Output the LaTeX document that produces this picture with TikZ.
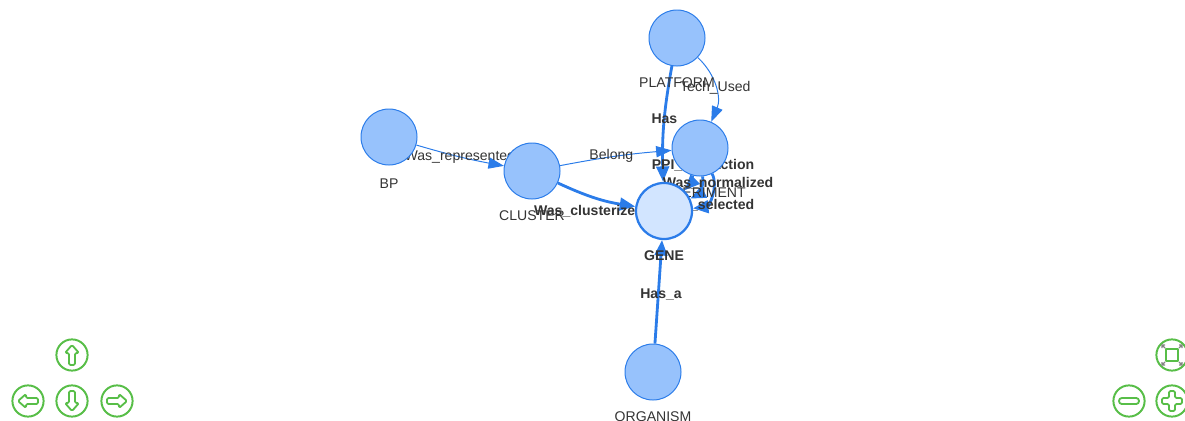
\documentclass[tikz,border=0pt]{standalone}
\usepackage{fontspec}
\setmainfont{Liberation Sans}
\usetikzlibrary{arrows.meta}
\usetikzlibrary{calc}
\pgfdeclarelayer{edges}
\pgfsetlayers{edges,main}
\definecolor{visfill}{HTML}{97C2FC}
\definecolor{visselfill}{HTML}{D2E5FF}
\definecolor{visborder}{HTML}{2B7CE9}
\definecolor{visedge}{HTML}{2B7CE9}
\definecolor{vistext}{HTML}{343434}
\definecolor{navgreen}{RGB}{88,190,72}
\definecolor{navgray}{RGB}{130,130,130}
\tikzset{
	entity/.style={circle,draw=visborder,fill=visfill,line width=0.7pt,minimum size=1.4cm,inner sep=0pt},
	selentity/.style={entity,fill=visselfill,line width=1.6pt},
	nlabel/.style={text=vistext,font=\fontsize{10}{12}\selectfont,inner sep=0pt},
	selnlabel/.style={nlabel,font=\fontsize{10}{12}\selectfont\bfseries},
	rel/.style={draw=visedge,line width=0.7pt,-{Triangle[length=11pt,width=8pt]}},
	selrel/.style={rel,line width=2pt,-{Triangle[length=11pt,width=9pt]}},
	elabel/.style={text=vistext,font=\fontsize{10}{12}\selectfont,inner sep=0pt},
	selabel/.style={elabel,font=\fontsize{10}{12}\selectfont\bfseries},
	navbtn/.style={circle,draw=navgreen,line width=1.4pt,minimum size=0.78cm,inner sep=0pt},
	navicon/.style={draw=navgreen,line width=1.3pt,rounded corners=1pt,line join=round},
	navarrow/.pic={\draw[navicon] (0,-10) -- (7,-2) -- (3,-2) -- (3,10) -- (-3,10) -- (-3,-2) -- (-7,-2) -- cycle;},
	navminus/.pic={\draw[navicon,rounded corners=2pt] (-10,-3) rectangle (10,3);},
	navplus/.pic={\draw[navicon] (-3,-10) -- (3,-10) -- (3,-3) -- (10,-3) -- (10,3) -- (3,3) -- (3,10) -- (-3,10) -- (-3,3) -- (-10,3) -- (-10,-3) -- (-3,-3) -- cycle;},
	navfit/.pic={
		\draw[navicon,rounded corners=0pt] (-6,-6) rectangle (6,6);
		\foreach \sx/\sy in {1/1,1/-1,-1/1,-1/-1}
			\draw[navgray,line width=0.8pt] (\sx*7,\sy*7) -- (\sx*10,\sy*10) (\sx*10,\sy*7) -- (\sx*10,\sy*10) -- (\sx*7,\sy*10);
	}
}

\begin{document}
\begin{tikzpicture}[x=0.025cm,y=-0.025cm,label distance=7.5pt]
	\useasboundingbox (0,0) rectangle (1185,421);
	% entities
	\node[entity,label={[nlabel]below:PLATFORM}] (platform) at (677,38) {};
	\node[entity,label={[nlabel]below:EXPERIMENT}] (experiment) at (700,148) {};
	\node[entity,label={[nlabel]below:CLUSTER}] (cluster) at (532,171) {};
	\node[entity,label={[nlabel,yshift=-2pt]below:BP}] (bp) at (389,137) {};
	\node[entity,label={[nlabel]below:ORGANISM}] (organism) at (653,372) {};
	\node[selentity,label={[selnlabel]below:GENE}] (gene) at (664,211) {};
	% relations
	\begin{pgfonlayer}{edges}
	\draw[selrel] (platform) to[bend right=6] node[selabel,pos=0.45] (lhas) {Has} (gene);
	\draw[rel] (platform) to[bend left=35] node[elabel,pos=0.5] (ltech) {Tech\_Used} (experiment);
	\draw[rel] (bp) to[bend right=3] node[elabel] (lrep) {Was\_represented} (cluster);
	\draw[rel] (cluster) to[bend left=3] node[elabel,xshift=-3pt] (lbelong) {Belong} (experiment);
	\draw[selrel] (cluster) to[bend right=8] (gene);
	\draw[selrel] (organism) to (gene);
	\draw[selrel] (experiment) to[bend left=15] (gene);
	\draw[selrel] (experiment) to[bend left=35] (gene);
	\draw[selrel] (experiment) to[bend left=55] (gene);
	\node[selabel] (lclust) at (589,211) {Was\_clusterized};
	\node[selabel] (lhasa) at (661,295) {Has\_a};
	\node[selabel] (lppi) at (703,165) {PPI\_interaction};
	\node[selabel] (lnorm) at (718,183) {Was\_normalized};
	\node[selabel] (lsel) at (708,205) {Was\_selected};
	\end{pgfonlayer}
	% navigation
	\node[navbtn] (btnup) at (72,355) {};
	\node[navbtn] (btnleft) at (28,401) {};
	\node[navbtn] (btndown) at (72,401) {};
	\node[navbtn] (btnright) at (117,401) {};
	\node[navbtn] (btnfit) at (1172,355) {};
	\node[navbtn] (btnout) at (1129,401) {};
	\node[navbtn] (btnin) at (1172,401) {};
	\pic at (btnup) {navarrow};
	\pic[rotate=90] at (btnleft) {navarrow};
	\pic[rotate=180] at (btndown) {navarrow};
	\pic[rotate=-90] at (btnright) {navarrow};
	\pic at (btnfit) {navfit};
	\pic at (btnout) {navminus};
	\pic at (btnin) {navplus};
\end{tikzpicture}
\end{document}
